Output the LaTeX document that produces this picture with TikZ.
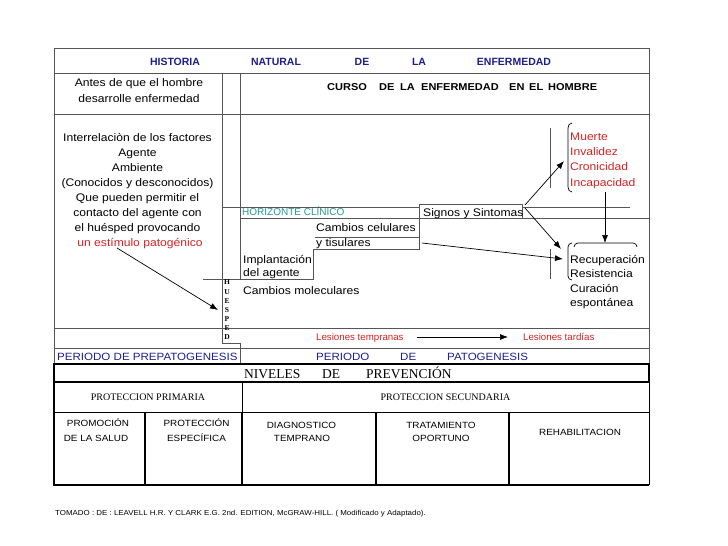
\documentclass[tikz,border=0pt]{standalone}
\usepackage{fontspec}
\setmainfont{Liberation Sans}
\newfontfamily\wsans{Liberation Sans}[FakeStretch=1.1]
\newfontfamily\tsrf{Liberation Serif}
\usetikzlibrary{arrows.meta}
\definecolor{navy}{RGB}{30,30,140}
\definecolor{tealc}{RGB}{40,150,150}
\definecolor{redt}{RGB}{210,35,35}
\definecolor{linegray}{RGB}{85,85,85}
\tikzset{
  frame/.style={draw=linegray, line width=0.8pt},
  tbl/.style={draw=black, line width=1.5pt},
  tbln/.style={draw=black, line width=0.8pt},
  tc/.style={inner sep=0pt, anchor=base},
  tw/.style={inner sep=0pt, anchor=base west},
  body/.style={font=\wsans\fontsize{11}{13}\selectfont},
  ttl/.style={font=\bfseries\fontsize{10.5}{12}\selectfont, text=navy},
  curso/.style={font=\wsans\bfseries\fontsize{10}{12}\selectfont},
  per/.style={font=\wsans\fontsize{10.5}{12}\selectfont, text=navy},
  les/.style={font=\fontsize{9.7}{11}\selectfont, text=redt},
  hue/.style={font=\tsrf\bfseries\fontsize{7.5}{8}\selectfont, inner sep=0pt, anchor=center},
  lvl/.style={font=\tsrf\fontsize{10}{11}\selectfont},
  cell/.style={font=\wsans\fontsize{9}{11}\selectfont},
  arr/.style={-{Latex[length=8pt,width=6pt]}, line width=0.7pt},
  brk/.style={draw=black, line width=0.7pt}
}
\begin{document}
\begin{tikzpicture}[x=1pt,y=-1pt]
\useasboundingbox (0,0) rectangle (728,546);
\fill[white] (0,0) rectangle (728,546);

% ---------- upper frame ----------
\draw[frame] (54,48) rectangle (649,364);
\draw[frame] (54,73) -- (649,73);
\draw[frame] (54,114) -- (649,114);
\draw[frame] (54,328) -- (649,328);
\draw[frame] (54,348) -- (649,348);
\draw[frame] (222,73) -- (222,343) -- (240,343) -- (240,364);
\draw[frame] (240,73) -- (240,279);
\draw[frame] (222,207) -- (419,207);
\draw[frame] (522,207) -- (630,207);
\draw[frame] (240,218) -- (649,218);
\draw[frame] (315,237) -- (419,237);
\draw[frame] (203,279) -- (313,279) -- (313,249) -- (419,249) -- (419,204) -- (522,204) -- (522,218);
\draw[frame] (550,128) -- (550,188);
\draw[frame] (550,249) -- (550,279);

% ---------- title ----------
\node[ttl,tc] (tHist) at (175,65) {HISTORIA};
\node[ttl,tc] (tNat) at (276,65) {NATURAL};
\node[ttl,tc] (tDe) at (362,65) {DE};
\node[ttl,tc] (tLa) at (419,65) {LA};
\node[ttl,tc] (tEnf) at (514,65) {ENFERMEDAD};

\node[body,tc] (antes1) at (139,86.7) {Antes de que el hombre};
\node[body,tc] (antes2) at (139,102) {desarrolle enfermedad};

\node[curso,tw] (c1) at (327,90) {CURSO};
\node[curso,tw] (c2) at (379,90) {DE};
\node[curso,tw] (c3) at (400,90) {LA};
\node[curso,tw] (c4) at (421,90) {ENFERMEDAD};
\node[curso,tw] (c5) at (509,90) {EN};
\node[curso,tw] (c6) at (529,90) {EL};
\node[curso,tw] (c7) at (548,90) {HOMBRE};

% ---------- left block ----------
\foreach \t [count=\i] in {Interrelaciòn de los factores, Agente, Ambiente, (Conocidos y desconocidos), Que pueden permitir el, contacto del agente con, el huésped provocando}
  \node[body,tc] (left\i) at (137.5,{141.7+15*(\i-1)}) {\t};
\node[body,tc,text=redt] (estim) at (140,246.7) {un estímulo patogénico};

% ---------- HUESPED ----------
\foreach \l [count=\i] in {H,U,E,S,P,E,D}
  \node[hue] (hu\i) at (227,{282.5+9.1*(\i-1)}) {\l};

% ---------- course texts ----------
\node[font=\fontsize{10}{12}\selectfont, text=tealc, tw] (horiz) at (242,215.5) {HORIZONTE CLÍNICO};
\node[body,tw] (signos) at (423,216) {Signos y Sintomas};
\node[body,tw] (celul) at (316,231.7) {Cambios celulares};
\node[body,tw] (tisul) at (316,246.5) {y tisulares};
\node[body,tw] (impl) at (243,263) {Implantación};
\node[body,tw] (delag) at (243,276.7) {del agente};
\node[body,tw] (molec) at (243,294) {Cambios moleculares};

\foreach \t [count=\i] in {Muerte, Invalidez, Cronicidad, Incapacidad}
  \node[body,tw,text=redt] (bad\i) at (570,{140.7+15.1*(\i-1)}) {\t};
\node[body,tw] (rec1) at (570,263) {Recuperación};
\node[body,tw] (rec2) at (570,277.7) {Resistencia};
\node[body,tw] (rec3) at (570,292.3) {Curación};
\node[body,tw] (rec4) at (570,306.5) {espontánea};

% brackets
\draw[brk] (572,123) to[out=180,in=90] (568,128) -- (568,187) to[out=-90,in=180] (572,192);
\draw[brk] (572,243) to[out=180,in=90] (568,247) -- (568,276) to[out=-90,in=180] (572,280);
\draw[brk] (574,247) to[out=90,in=180] (578,243) -- (633,243) to[out=0,in=90] (637,247);

% lesiones
\node[les,tw] (lestemp) at (316,340) {Lesiones tempranas};
\node[les,tw] (lestard) at (523,340) {Lesiones tardías};

% periodo
\node[per,tw] (prepat) at (57,360.7) {PERIODO DE PREPATOGENESIS};
\node[per,tw] (p1) at (316,360.7) {PERIODO};
\node[per,tw] (p2) at (400,360.7) {DE};
\node[per,tw] (p3) at (447,360.7) {PATOGENESIS};

% ---------- arrows ----------
\coordinate (a1s) at (117,248);
\coordinate (a1e) at (218,310);
\coordinate (a2s) at (525,205);
\coordinate (a2e) at (564,161);
\coordinate (a3s) at (525,208);
\coordinate (a3e) at (561,249);
\coordinate (a4s) at (422,243);
\coordinate (a4e) at (563,259);
\coordinate (a5s) at (605,192);
\coordinate (a5e) at (605,243);
\coordinate (a6s) at (417,337);
\coordinate (a6e) at (508,337);
\draw[arr] (a1s) -- (a1e);
\draw[arr] (a2s) -- (a2e);
\draw[arr] (a3s) -- (a3e);
\draw[arr] (a4s) -- (a4e);
\draw[arr] (a5s) -- (a5e);
\draw[arr] (a6s) -- (a6e);

% ---------- niveles de prevencion ----------
\draw[draw=black, line width=2.5pt] (54,364) rectangle (649,382);
\node[font=\tsrf\fontsize{13.5}{15}\selectfont, tw] (niv1) at (244,378) {NIVELES};
\node[font=\tsrf\fontsize{13.5}{15}\selectfont, tw] (niv2) at (322,378) {DE};
\node[font=\tsrf\fontsize{13.5}{15}\selectfont, tw] (niv3) at (366,378) {PREVENCIÓN};

\draw[tbln] (649,382) -- (649,485);
\draw[tbln] (54,412) -- (649,412);
\draw[tbl] (54,382) -- (54,485) -- (649,485);
\draw[tbln] (242,382) -- (242,412);
\draw[tbl] (242,412) -- (242,485);
\draw[tbl] (145,412) -- (145,485);
\draw[tbl] (376,412) -- (376,485);
\draw[tbl] (509,412) -- (509,485);

\node[lvl,tc] (prim) at (148,400.7) {PROTECCION PRIMARIA};
\node[lvl,tc] (sec) at (445.5,400.7) {PROTECCION SECUNDARIA};

\node[cell,tc] (prom1) at (98,426.7) {PROMOCIÓN};
\node[cell,tc] (prom2) at (96,441) {DE LA SALUD};
\node[cell,tc] (prot1) at (196.5,426.7) {PROTECCIÓN};
\node[cell,tc] (prot2) at (196.5,441) {ESPECÍFICA};
\node[cell,tc] (diag1) at (301.5,428.3) {DIAGNOSTICO};
\node[cell,tc] (diag2) at (302,441.7) {TEMPRANO};
\node[cell,tc] (trat1) at (441,428.3) {TRATAMIENTO};
\node[cell,tc] (trat2) at (441,441.7) {OPORTUNO};
\node[cell,tc] (rehab) at (580,435) {REHABILITACION};

\node[font=\wsans\fontsize{7.2}{8}\selectfont, tw] (foot) at (55,515.7) {TOMADO : DE : LEAVELL H.R. Y CLARK E.G. 2nd. EDITION, McGRAW-HILL. ( Modificado y Adaptado).};
\end{tikzpicture}
\end{document}
